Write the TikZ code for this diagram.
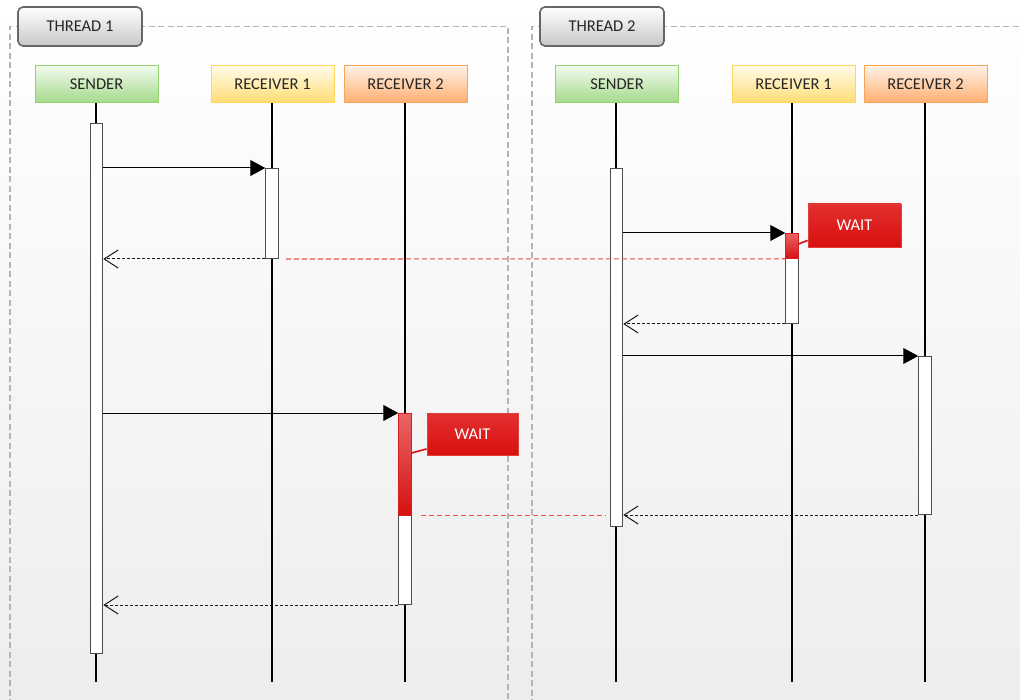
\documentclass[tikz,border=0pt]{standalone}
\usepackage{fontspec}
\setmainfont{Carlito}
\usetikzlibrary{arrows.meta,calc}
\definecolor{gtop}{HTML}{F2FBEE}\definecolor{gbot}{HTML}{A3D98A}\definecolor{gbd}{HTML}{92D36E}
\definecolor{ytop}{HTML}{FFFBE8}\definecolor{ybot}{HTML}{FFDC73}\definecolor{ybd}{HTML}{FFD65A}
\definecolor{otop}{HTML}{FFF1E6}\definecolor{obot}{HTML}{FFAE70}\definecolor{obd}{HTML}{F9A65A}
\definecolor{rtop}{HTML}{E86565}\definecolor{rbot}{HTML}{D81010}\definecolor{rbd}{HTML}{CC2222}
\definecolor{wtop}{HTML}{E23030}\definecolor{wbot}{HTML}{D90E0E}
\definecolor{frame}{HTML}{B4B4B4}\definecolor{linkred}{HTML}{EE5050}
\begin{document}
\begin{tikzpicture}[x=1pt,y=-1pt,
  txt/.style={font=\fontsize{16.5}{18}\selectfont},
  head/.style={txt, draw, line width=1pt, minimum width=123pt, minimum height=37pt, inner sep=0pt, text=black!85},
  sendh/.style={head, draw=gbd, top color=gtop, bottom color=gbot},
  rone/.style={head, draw=ybd, top color=ytop, bottom color=ybot},
  rtwo/.style={head, draw=obd, top color=otop, bottom color=obot},
  tab/.style={txt, draw=black!60, line width=1.6pt, rounded corners=5pt, top color=white, bottom color=black!22, minimum width=124pt, minimum height=39pt, inner sep=0pt, text=black!85},
  bar/.style={draw=black!70, fill=white, line width=1pt, minimum width=12.5pt, inner sep=0pt, anchor=north},
  redbar/.style={draw=rbd, top color=rtop, bottom color=rbot, line width=0.8pt, minimum width=12.5pt, inner sep=0pt, anchor=north},
  life/.style={line width=2pt},
  msg/.style={line width=1pt, -{Triangle[length=15pt,width=16pt]}},
  ret/.style={line width=1pt, black!90, dash pattern=on 3pt off 2pt, -{Straight Barb[length=14pt,width=18pt,line width=1pt]}},
  link/.style={draw=linkred, dash pattern=on 5pt off 3pt, line width=1.1pt},
  waitbox/.style={txt, draw=wbot!80, top color=wtop, bottom color=wbot, line width=0.8pt, text=white, inner sep=0pt},
  callout/.style={draw=rbot, line width=1.6pt},
  framed/.style={draw=frame, line width=1.8pt, dash pattern=on 6pt off 3.5pt}
]
\useasboundingbox (0,0) rectangle (1020,700);
\shade[top color=white, bottom color=black!7] (0,0) rectangle (1020,700);

% frames
\draw[framed] (10,705) -- (10,26.5) -- (508,26.5) -- (508,705);
\draw[framed] (532,705) -- (532,26.5) -- (1025,26.5);
\node[tab] (t1) at (80,26.5) {THREAD 1};
\node[tab] (t2) at (602,26.5) {THREAD 2};

% headers
\node[sendh] (h1s) at (96.5,84.5) {SENDER};
\node[rone] (h1a) at (272.5,84.5) {RECEIVER 1};
\node[rtwo] (h1b) at (405.5,84.5) {RECEIVER 2};
\node[sendh] (h2s) at (617,84.5) {SENDER};
\node[rone] (h2a) at (793.5,84.5) {RECEIVER 1};
\node[rtwo] (h2b) at (925.5,84.5) {RECEIVER 2};

% lifeline ends
\coordinate (e1s) at (96,682);
\coordinate (e1a) at (272,682);
\coordinate (e1b) at (405,682);
\coordinate (e2s) at (616,682);
\coordinate (e2a) at (792,682);
\coordinate (e2b) at (925,682);
\draw[life] (h1s.south -| e1s) -- (e1s);
\draw[life] (h1a.south -| e1a) -- (e1a);
\draw[life] (h1b.south -| e1b) -- (e1b);
\draw[life] (h2s.south -| e2s) -- (e2s);
\draw[life] (h2a.south -| e2a) -- (e2a);
\draw[life] (h2b.south -| e2b) -- (e2b);

% activation bars
\node[bar, minimum height=530pt] (b1s) at (96.5,123) {};
\node[bar, minimum height=90pt] (b1a) at (272,168) {};
\node[bar, minimum height=191pt] (b1b) at (405,413) {};
\node[redbar, minimum height=102pt] (b1bred) at (405,413) {};
\node[bar, minimum height=358pt] (b2s) at (616.5,168) {};
\node[bar, minimum height=90pt] (b2a) at (792,233) {};
\node[redbar, minimum height=25pt] (b2ared) at (792,233) {};
\node[bar, minimum height=158pt] (b2b) at (925,356) {};

% messages thread 1
\draw[msg] (b1s.east |- b1a.north) -- (b1a.north west);
\draw[ret] (b1a.south west) -- (b1s.east |- b1a.south);
\draw[msg] (b1s.east |- b1b.north) -- (b1b.north west);
\draw[ret] (b1b.south west) -- (b1s.east |- b1b.south);
% messages thread 2
\draw[msg] (b2s.east |- b2a.north) -- (b2a.north west);
\draw[ret] (b2a.south west) -- (b2s.east |- b2a.south);
\draw[msg] (b2s.east |- b2b.north) -- (b2b.north west);
\draw[ret] (b2b.south west) -- (b2s.east |- b2b.south);

% links between threads
\draw[link] ($(b1a.south east)+(7,0)$) -- (b2ared.south west);
\draw[link] ($(b1bred.south east)+(9,0)$) -- ($(b2s.west |- b1bred.south)+(-5,0)$);

% wait callouts
\node[waitbox, minimum width=91pt, minimum height=42pt] (w1) at (472.5,434.5) {WAIT};
\node[waitbox, minimum width=93pt, minimum height=43pt] (w2) at (854.5,225.5) {WAIT};
\draw[callout] ($(b1bred.north east)+(0,40)$) -- ($(w1.south west)+(0,-7)$);
\draw[callout] ($(b2ared.north east)+(0,11)$) -- ($(w2.south west)+(0,-7)$);
\end{tikzpicture}
\end{document}
